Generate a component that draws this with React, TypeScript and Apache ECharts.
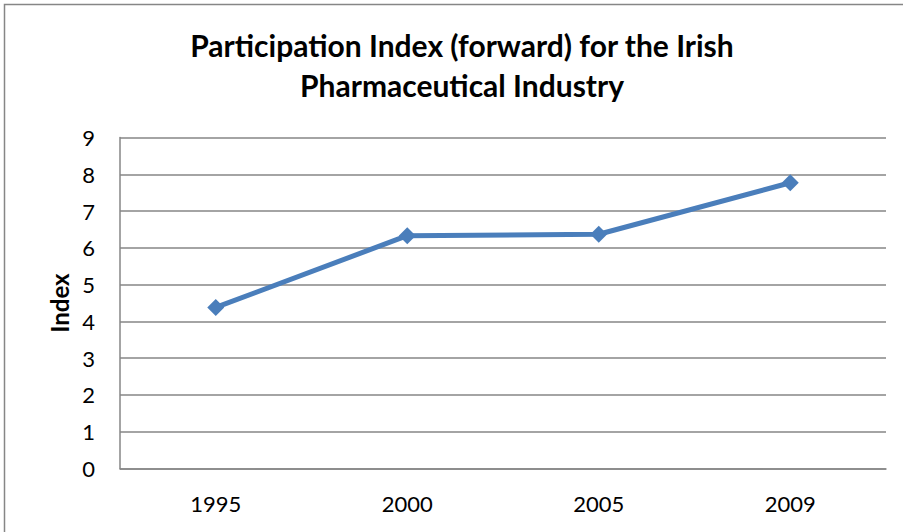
import React, { useEffect, useRef } from "react";
import * as echarts from "echarts";

const categories = ["1995", "2000", "2005", "2009"];
const indexValues = [4.38, 6.33, 6.37, 7.77];
const titleText = "Participation Index (forward) for the Irish\nPharmaceutical Industry";
const yAxisName = "Index";

export default function App() {
  const ref = useRef<HTMLDivElement>(null);
  useEffect(() => {
    if (!ref.current) return;
    const chart = echarts.init(ref.current, undefined, { renderer: "svg" });
    const font = "Lato, 'Open Sans', sans-serif";
    chart.setOption({
      animation: false,
      backgroundColor: "#ffffff",
      graphic: [
        {
          type: "rect",
          shape: { x: 4.5, y: 4.5, width: 910, height: 540 },
          style: { fill: "none", stroke: "#868686", lineWidth: 1.5 },
          silent: true,
        },
      ],
      title: {
        text: titleText,
        left: 457,
        textAlign: "center",
        top: 20,
        padding: 5,
        textStyle: {
          fontFamily: font,
          fontWeight: "bold",
          fontSize: 30,
          lineHeight: 40,
          color: "#000",
        },
      },
      grid: { left: 120, right: 17, top: 137.5, bottom: 63.5, containLabel: false },
      xAxis: {
        type: "category",
        data: categories,
        boundaryGap: true,
        axisLine: { show: true, lineStyle: { color: "#868686", width: 1.5 } },
        axisTick: { show: false },
        axisLabel: { fontFamily: font, fontSize: 22, color: "#000", margin: 24 },
      },
      yAxis: {
        type: "value",
        min: 0,
        max: 9,
        interval: 1,
        name: yAxisName,
        nameLocation: "middle",
        nameGap: 49,
        nameRotate: 90,
        nameTextStyle: { fontFamily: font, fontWeight: "bold", fontSize: 24, color: "#000" },
        axisLine: { show: true, lineStyle: { color: "#868686", width: 1.5 } },
        axisTick: { show: false },
        axisLabel: { fontFamily: font, fontSize: 22, color: "#000", margin: 25 },
        splitLine: { show: true, lineStyle: { color: "#868686", width: 1.5 } },
      },
      series: [
        {
          type: "line",
          data: indexValues,
          symbol: "diamond",
          symbolSize: 17,
          lineStyle: { color: "#4A7EBB", width: 5 },
          itemStyle: { color: "#4A7EBB" },
        },
      ],
    });
    return () => chart.dispose();
  }, []);
  return (
    <div
      ref={ref}
      style={{ position: "fixed", left: 0, top: 0, width: 903, height: 532 }}
    />
  );
}
